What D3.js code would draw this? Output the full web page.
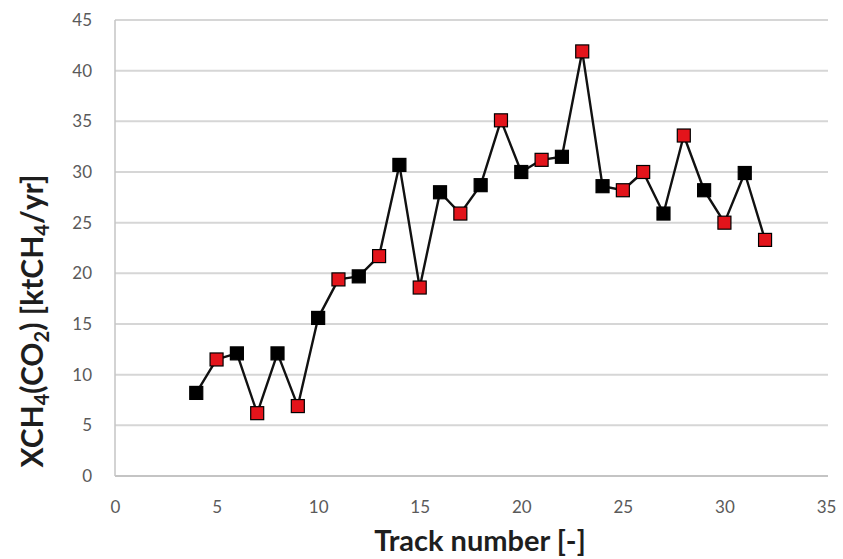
<!DOCTYPE html>
<html>
<head>
<meta charset="utf-8">
<script src="https://cdn.jsdelivr.net/npm/d3@7"></script>
<style>
  html, body { margin: 0; padding: 0; background: #fff; }
  svg { display: block; }
</style>
</head>
<body>
<svg id="chart" width="843" height="559"></svg>
<script>
// ---- data ----
const tracks = [4, 5, 6, 7, 8, 9, 10, 11, 12, 13, 14, 15, 16, 17, 18, 19, 20, 21, 22, 23, 24, 25, 26, 27, 28, 29, 30, 31, 32];
const values = [8.2, 11.5, 12.1, 6.2, 12.1, 6.9, 15.6, 19.4, 19.7, 21.7, 30.7, 18.6, 28.0, 25.9, 28.7, 35.1, 30.0, 31.2, 31.5, 41.9, 28.6, 28.2, 30.0, 25.9, 33.6, 28.2, 25.0, 29.9, 23.3];
const markerType = ["k","r","k","r","k","r","k","r","k","r","k","r","k","r","k","r","k","r","k","r","k","r","r","k","r","k","r","k","r"];
const xTicks = [0, 5, 10, 15, 20, 25, 30, 35];
const yTicks = [0, 5, 10, 15, 20, 25, 30, 35, 40, 45];

const svg = d3.select("#chart");
const pL = 115, pR = 826, pT = 20, pB = 476;
const FONT = "Lato, 'Open Sans', sans-serif";

const x = d3.scaleLinear().domain([0, 35]).range([pL, pR]);
const y = d3.scaleLinear().domain([0, 45]).range([pB, pT]);

// gridlines
svg.append("g").selectAll("line").data(yTicks.filter(d => d > 0)).join("line")
  .attr("x1", pL).attr("x2", pR + 2)
  .attr("y1", d => y(d)).attr("y2", d => y(d))
  .attr("stroke", "#d6d6d6").attr("stroke-width", 2);

// axes lines
svg.append("line").attr("x1", pL).attr("x2", pL).attr("y1", pT).attr("y2", pB)
  .attr("stroke", "#c4c4c4").attr("stroke-width", 1.5);
svg.append("line").attr("x1", pL).attr("x2", pR + 2).attr("y1", pB).attr("y2", pB)
  .attr("stroke", "#c4c4c4").attr("stroke-width", 2);

// y tick labels
const yAxis = d3.axisLeft(y).tickValues(yTicks).tickSize(0).tickPadding(23);
const gy = svg.append("g").attr("transform", `translate(${pL},0)`).call(yAxis);
gy.select(".domain").remove();
gy.selectAll(".tick line").remove();
gy.selectAll("text").attr("font-family", FONT)
  .attr("font-size", 17).attr("fill", "#5a5a5a");

// x tick labels
const xAxis = d3.axisBottom(x).tickValues(xTicks).tickSize(0).tickPadding(25);
const gx = svg.append("g").attr("transform", `translate(0,${pB})`).call(xAxis);
gx.select(".domain").remove();
gx.selectAll("text").attr("font-family", FONT)
  .attr("font-size", 17).attr("fill", "#5a5a5a");

// line
const line = d3.line().x((d, i) => x(tracks[i])).y(d => y(d));
svg.append("path").datum(values).attr("d", line)
  .attr("fill", "none").attr("stroke", "#111").attr("stroke-width", 2.4)
  .attr("stroke-linejoin", "round");

// markers
const ms = 13;
svg.append("g").selectAll("rect").data(values).join("rect")
  .attr("x", (d, i) => x(tracks[i]) - ms / 2)
  .attr("y", d => y(d) - ms / 2)
  .attr("width", ms).attr("height", ms)
  .attr("fill", (d, i) => markerType[i] === "r" ? "#e3141b" : "#000")
  .attr("stroke", "#000").attr("stroke-width", 1.2);

// axis titles
svg.append("text")
  .attr("x", 480).attr("y", 551)
  .attr("text-anchor", "middle")
  .attr("font-family", FONT).attr("font-weight", "bold")
  .attr("font-size", 29).attr("fill", "#1e1e1e")
  .text("Track number [-]");

const yt = svg.append("text")
  .attr("transform", "translate(43,321) rotate(-90)")
  .attr("text-anchor", "middle")
  .attr("font-family", FONT).attr("font-weight", "bold")
  .attr("font-size", 30).attr("fill", "#1e1e1e");
yt.append("tspan").text("XCH");
yt.append("tspan").attr("font-size", 20).attr("dy", 6).text("4");
yt.append("tspan").attr("dy", -6).text("(CO");
yt.append("tspan").attr("font-size", 20).attr("dy", 6).text("2");
yt.append("tspan").attr("dy", -6).text(") [ktCH");
yt.append("tspan").attr("font-size", 20).attr("dy", 6).text("4");
yt.append("tspan").attr("dy", -6).text("/yr]");
</script>
</body>
</html>
